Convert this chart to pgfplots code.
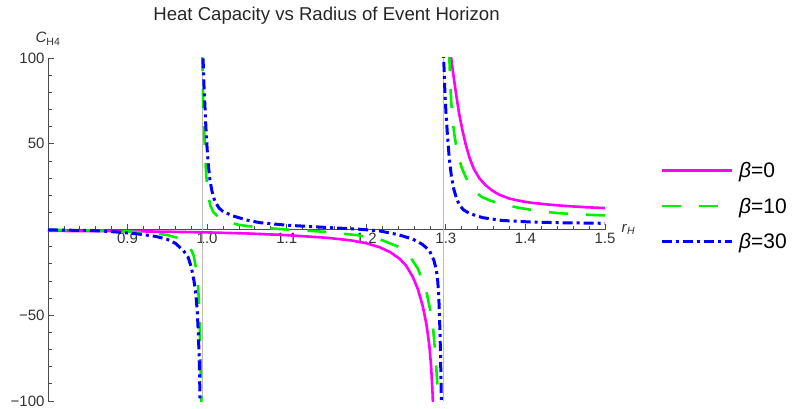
\documentclass[border=0pt]{standalone}
\usepackage{fontspec}
\setmainfont{Liberation Sans}
\usepackage{pgfplots}
\pgfplotsset{compat=1.18}

\definecolor{cmag}{RGB}{255,0,255}
\definecolor{cgreen}{RGB}{0,240,0}
\definecolor{cblue}{RGB}{0,0,255}
\definecolor{axgray}{gray}{0.3}
\definecolor{vgray}{RGB}{190,186,180}

\begin{document}
\begin{tikzpicture}
\path[use as bounding box] (-48pt,-7pt) rectangle (745pt,401pt);
\begin{axis}[
    at={(0pt,0pt)}, anchor=south west,
    scale only axis, width=557pt, height=343pt,
    xmin=0.8, xmax=1.5, ymin=-100, ymax=100,
    axis x line*=middle, axis y line*=left,
    axis line style={axgray, line width=0.9pt},
    unbounded coords=jump,
    xtick={0.9,1.0,1.1,1.2,1.3,1.4,1.5},
    xticklabels={0.9,1.0,1.1,1.2,1.3,1.4,1.5},
    minor xtick={0.82,0.84,0.86,0.88,0.92,0.94,0.96,0.98,1.02,1.04,1.06,1.08,
                 1.12,1.14,1.16,1.18,1.22,1.24,1.26,1.28,1.32,1.34,1.36,1.38,
                 1.42,1.44,1.46,1.48},
    ytick={-100,-50,50,100},
    yticklabels={−100,−50,50,100},
    minor ytick={-90,-80,-70,-60,-40,-30,-20,-10,10,20,30,40,60,70,80,90},
    major tick length=6pt, minor tick length=4pt,
    tick style={axgray, line width=0.8pt},
    tick align=inside,
    ticklabel style={font=\fontsize{15}{18}\selectfont, text=black!80},
    extra x ticks={0.9945,1.2965},
    extra x tick labels={},
    extra x tick style={grid=major, major tick length=0pt,
        major grid style={vgray, line width=0.7pt}},
    title={Heat Capacity vs Radius of Event Horizon},
    title style={at={(0.5,1)}, anchor=base, yshift=31pt,
        font=\fontsize{18.6}{22}\selectfont, text=black!85},
    xlabel={\textit{r}\textsubscript{\textit{H}}},
    xlabel style={at={(axis cs:1.5,0)}, anchor=base west, xshift=13pt, yshift=-3pt,
        font=\fontsize{15}{18}\selectfont, text=black!80},
    ylabel={\textit{C}\textsubscript{H4}},
    ylabel style={at={(rel axis cs:0,1)}, rotate=-90, anchor=base, yshift=15pt,
        font=\fontsize{15}{18}\selectfont, text=black!80},
    legend style={at={(rel axis cs:1.0988,0.568)}, anchor=west, draw=none,
        fill=none, inner sep=0pt, row sep=15pt,
        font=\fontsize{21}{25}\selectfont,
        nodes={inner sep=2pt}},
    legend cell align=left,
    legend image code/.code={\draw[#1] (0pt,0pt) -- (70pt,0pt); \path (74pt,0pt);},
    line join=round,
]
\addplot[cmag, line width=2.6pt] coordinates {
 (0.80,-0.8) (0.85,-0.9) (0.90,-1.0) (0.95,-1.3) (1.00,-1.7) (1.05,-2.3)
 (1.10,-3.3) (1.15,-4.8) (1.18,-6.3) (1.20,-8.0) (1.2166,-10.3) (1.23,-13.2)
 (1.2417,-17) (1.25,-21) (1.2584,-27.6) (1.265,-35) (1.271,-44.8)
 (1.2755,-55) (1.2793,-67.8) (1.2815,-80) (1.2834,-96.6) (1.2860,-130)
 (1.295,nan)
 (1.3052,125) (1.3060,108) (1.3065,100.7) (1.3085,93.5) (1.3107,86)
 (1.3135,77) (1.3169,67) (1.3210,57.5) (1.3253,49) (1.3300,41.5)
 (1.3350,35.5) (1.3420,29.9) (1.3500,25.8) (1.3580,22.8) (1.3671,20.3)
 (1.3800,18.0) (1.3950,16.5) (1.4089,15.5) (1.4300,14.5) (1.4508,13.7)
 (1.4750,13.0) (1.5000,12.5)
};
\addlegendentry{\textit{β}=0}
\addplot[cgreen, line width=2.6pt, dash pattern=on 19pt off 18pt] coordinates {
 (0.80,-0.2) (0.85,-0.5) (0.90,-1.1) (0.93,-2.0) (0.95,-3.2) (0.961,-4.6)
 (0.97,-6.3) (0.978,-10) (0.983,-15) (0.9866,-24) (0.9886,-33) (0.9900,-45)
 (0.9910,-62) (0.9918,-80) (0.9927,-98) (0.9933,-118)
 (0.9935,nan)
 (0.9936,125) (0.9940,100) (0.9946,83) (0.9953,70) (0.9962,58) (0.9972,46)
 (0.9984,35) (0.9998,26) (1.0015,19.5) (1.0040,14) (1.008,10) (1.0158,6.6)
 (1.024,4.6) (1.04,2.7) (1.066,1.1)
 (1.10,0) (1.15,-1.4) (1.19,-3.4) (1.2166,-5.6) (1.24,-10) (1.254,-15)
 (1.265,-23) (1.2751,-35) (1.2834,-54) (1.2876,-78) (1.2897,-93) (1.2915,-118)
 (1.297,nan)
 (1.3032,125) (1.3044,100) (1.3055,86) (1.3068,74) (1.3085,64) (1.3105,56)
 (1.3127,49.5) (1.316,42) (1.32,36) (1.325,30.5) (1.3295,26.5) (1.337,22)
 (1.345,19) (1.355,17) (1.3671,15.2) (1.39,12.8) (1.4173,10.7) (1.44,9.6)
 (1.4675,8.8) (1.5,8.2)
};
\addlegendentry{\textit{β}=10}
\addplot[cblue, line width=3pt, dash pattern=on 10pt off 4pt on 3pt off 4pt] coordinates {
 (0.80,-0.2) (0.85,-0.6) (0.865,-0.8) (0.89,-1.6) (0.915,-2.7) (0.935,-4.0)
 (0.949,-5.6) (0.96,-8.0) (0.970,-12.2) (0.976,-16) (0.980,-21.8)
 (0.9835,-30) (0.9860,-38.5) (0.9876,-48) (0.9890,-61) (0.9900,-75)
 (0.9908,-92) (0.9914,-115)
 (0.993,nan)
 (0.9946,112) (0.9949,100) (0.9955,90) (0.9963,81) (0.9973,71) (0.9985,59)
 (1.0000,47) (1.0015,37.5) (1.0035,29) (1.006,22.5) (1.0096,16.5)
 (1.015,12.5) (1.02,10.5) (1.0325,7.9) (1.05,5.5)
 (1.066,4.0) (1.10,2.5) (1.15,1.2) (1.19,0.2) (1.2166,-0.8) (1.24,-3.0)
 (1.2584,-5.6) (1.27,-8.5) (1.2793,-12.2) (1.285,-18) (1.288,-23.5)
 (1.2897,-29.5) (1.291,-38) (1.292,-50) (1.293,-67) (1.294,-90) (1.2948,-115)
 (1.2955,nan)
 (1.2970,110) (1.2973,100.7) (1.2980,90) (1.2990,78) (1.3003,67) (1.3020,55)
 (1.3044,41) (1.307,31) (1.31,23.5) (1.3135,18) (1.3169,14.5) (1.322,11.5)
 (1.33,9.3) (1.3462,6.9) (1.37,5.3) (1.4089,4.3) (1.45,3.9) (1.5,3.6)
};
\addlegendentry{\textit{β}=30}
\end{axis}
\end{tikzpicture}
\end{document}
